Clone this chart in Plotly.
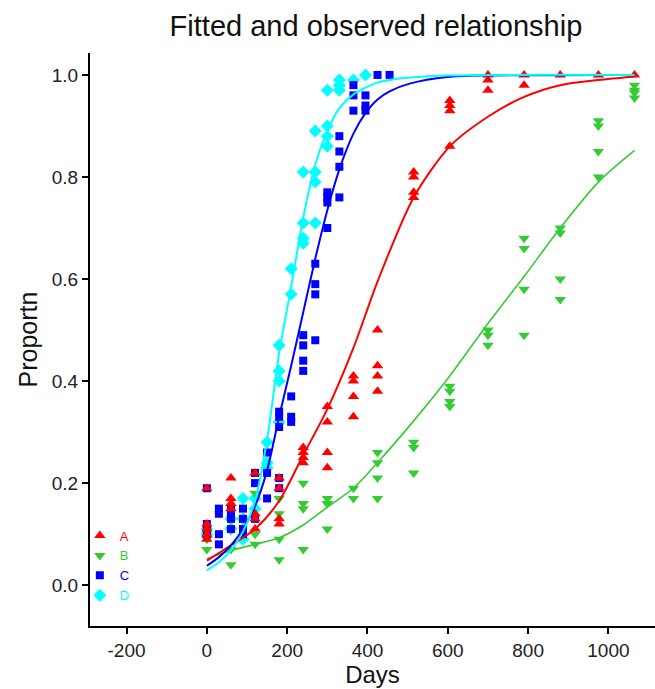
import plotly.graph_objects as go

# ---------------- observed data ----------------
A_days = [0]*5 + [60]*4 + [120]*4 + [180]*4 + [240]*4 + [300]*4 + [365]*4 + [425]*4 + [515]*4 + [605]*4 + [700]*3 + [790]*2 + [880, 975, 1065]
A_vals = [0.19, 0.12, 0.11, 0.10, 0.09,
          0.21, 0.17, 0.16, 0.15,
          0.22, 0.14, 0.13, 0.11,
          0.21, 0.19, 0.13, 0.12,
          0.27, 0.26, 0.25, 0.24,
          0.35, 0.32, 0.26, 0.23,
          0.41, 0.40, 0.37, 0.33,
          0.50, 0.43, 0.41, 0.38,
          0.81, 0.80, 0.77, 0.76,
          0.95, 0.94, 0.93, 0.86,
          1.00, 0.99, 0.97,
          1.00, 0.98,
          1.00, 1.00, 1.00]

B_days = [0]*2 + [60]*3 + [120]*3 + [180]*4 + [240]*4 + [300]*4 + [365]*2 + [425]*4 + [515]*3 + [605]*4 + [700]*3 + [790]*4 + [880]*4 + [975]*4 + [1065]*4
B_vals = [0.07, 0.09,
          0.11, 0.07, 0.04,
          0.18, 0.10, 0.08,
          0.17, 0.14, 0.09, 0.05,
          0.20, 0.16, 0.15, 0.07,
          0.17, 0.16, 0.16, 0.11,
          0.19, 0.17,
          0.26, 0.24, 0.21, 0.17,
          0.28, 0.27, 0.22,
          0.39, 0.38, 0.36, 0.35,
          0.50, 0.49, 0.47,
          0.68, 0.66, 0.58, 0.49,
          0.70, 0.69, 0.60, 0.56,
          0.91, 0.90, 0.85, 0.80,
          0.98, 0.97, 0.965, 0.955]

C_days = [0]*4 + [30]*4 + [60]*4 + [90]*4 + [120]*3 + [150]*3 + [180]*5 + [210]*3 + [240]*4 + [270]*4 + [300]*4 + [330]*4 + [365]*3 + [395]*3 + [425, 455]
C_vals = [0.19, 0.12, 0.11, 0.10,
          0.15, 0.14, 0.10, 0.08,
          0.15, 0.14, 0.13, 0.11,
          0.15, 0.13, 0.11, 0.10,
          0.22, 0.20, 0.13,
          0.26, 0.22, 0.17,
          0.34, 0.33, 0.31, 0.21, 0.19,
          0.37, 0.33, 0.32,
          0.49, 0.47, 0.44, 0.42,
          0.63, 0.59, 0.57, 0.48,
          0.77, 0.76, 0.75, 0.70,
          0.88, 0.85, 0.82, 0.76,
          0.98, 0.96, 0.93,
          0.96, 0.94, 0.93,
          1.00, 1.00]

D_days = [0]*2 + [60]*2 + [90]*3 + [120]*2 + [150]*3 + [180]*4 + [210]*2 + [240]*4 + [270]*4 + [300]*4 + [330]*3 + [365, 395]
D_vals = [0.10, 0.11,
          0.13, 0.11,
          0.17, 0.13, 0.09,
          0.17, 0.15,
          0.28, 0.24, 0.23,
          0.47, 0.42, 0.40, 0.32,
          0.62, 0.57,
          0.81, 0.71, 0.68, 0.67,
          0.89, 0.81, 0.79, 0.71,
          0.97, 0.90, 0.88, 0.86,
          0.99, 0.98, 0.97,
          0.99, 1.00]

# ---------------- fitted curves ----------------
A_fit_days = [0, 60, 120, 180, 240, 300, 365, 425, 515, 605, 700, 790, 880, 975, 1065]
A_fit_vals = [0.048, 0.078, 0.11, 0.165, 0.255, 0.345, 0.465, 0.595, 0.76, 0.86, 0.918, 0.957, 0.98, 0.99, 0.997]

B_fit_days = [0, 60, 120, 180, 240, 300, 365, 425, 515, 605, 700, 790, 880, 975, 1065]
B_fit_vals = [0.052, 0.068, 0.08, 0.093, 0.118, 0.153, 0.19, 0.24, 0.322, 0.41, 0.513, 0.605, 0.70, 0.79, 0.852]

C_fit_days = [0, 30, 60, 90, 120, 150, 180, 210, 240, 270, 300, 330, 365, 395, 425, 455, 505, 600, 700, 1065]
C_fit_vals = [0.038, 0.055, 0.078, 0.11, 0.155, 0.225, 0.33, 0.43, 0.535, 0.64, 0.735, 0.815, 0.885, 0.925, 0.952, 0.968, 0.983, 0.996, 0.999, 1.0]

D_fit_days = [0, 30, 60, 90, 120, 150, 180, 210, 240, 270, 300, 330, 365, 395, 425, 455, 505, 600, 1065]
D_fit_vals = [0.029, 0.045, 0.068, 0.105, 0.165, 0.285, 0.455, 0.585, 0.72, 0.825, 0.89, 0.935, 0.962, 0.975, 0.985, 0.99, 0.995, 0.999, 1.0]

x_ticks = [-200, 0, 200, 400, 600, 800, 1000]
y_ticks = [0.0, 0.2, 0.4, 0.6, 0.8, 1.0]

RED = "#FF0000"
GREEN = "#33CC33"
BLUE = "#0000FF"
CYAN = "#00FFFF"

FONT = "Arial, Liberation Sans, sans-serif"

fig = go.Figure()

series = [
    ("A", A_days, A_vals, A_fit_days, A_fit_vals, RED, "triangle-up", 10, 2),
    ("B", B_days, B_vals, B_fit_days, B_fit_vals, GREEN, "triangle-down", 10, 1.6),
    ("C", C_days, C_vals, C_fit_days, C_fit_vals, BLUE, "square", 8, 2),
    ("D", D_days, D_vals, D_fit_days, D_fit_vals, CYAN, "diamond", 10, 2),
]

# markers: draw order D, B, C, A (A on top)
order = [3, 1, 2, 0]
for i in order:
    name, dx, dy, fx, fy, col, sym, sz, lw = series[i]
    fig.add_trace(go.Scatter(
        x=dx, y=dy, mode="markers",
        name=f"<span style='color:{col}'>{name}</span>",
        marker=dict(symbol=sym, size=sz, color=col, line=dict(width=0)),
        legendrank=i + 1,
        showlegend=True,
    ))

for i in [1, 0, 2, 3]:
    name, dx, dy, fx, fy, col, sym, sz, lw = series[i]
    fig.add_trace(go.Scatter(
        x=fx, y=fy, mode="lines", line=dict(color=col, width=lw, shape="spline", smoothing=0.8),
        showlegend=False, hoverinfo="skip",
    ))

fig.update_layout(
    width=655, height=689,
    margin=dict(l=90, r=0, t=53, b=63),
    paper_bgcolor="white", plot_bgcolor="white",
    font=dict(family=FONT, color="black"),
    title=dict(text="Fitted and observed relationship", x=0.574, xanchor="center",
               y=0.963, yanchor="middle", font=dict(size=29, family=FONT, color="#111111")),
    legend=dict(x=-0.018, y=0.184, xanchor="left", yanchor="top",
                bgcolor="rgba(0,0,0,0)", font=dict(size=13, family=FONT),
                itemwidth=30, tracegroupgap=0, traceorder="normal"),
    showlegend=True,
)

fig.update_xaxes(
    range=[-291, 1116], tickvals=x_ticks, ticktext=[str(v) for v in x_ticks],
    showline=True, linecolor="black", linewidth=2, mirror=False,
    ticks="outside", ticklen=6, tickwidth=2, tickcolor="black",
    showgrid=False, zeroline=False,
    tickfont=dict(size=19, family=FONT, color="#222222"),
    title=dict(text="Days", font=dict(size=24, family=FONT, color="#111111"), standoff=5),
)
fig.update_yaxes(
    range=[-0.08, 1.043], tickvals=y_ticks, ticktext=[f"{v:.1f}" for v in y_ticks],
    showline=True, linecolor="black", linewidth=2, mirror=False,
    ticks="outside", ticklen=6, tickwidth=2, tickcolor="black",
    showgrid=False, zeroline=False,
    tickfont=dict(size=19, family=FONT, color="#222222"),
    title=dict(text="Proportn", font=dict(size=25, family=FONT, color="#111111"), standoff=7),
)

fig.write_html("out.html")
